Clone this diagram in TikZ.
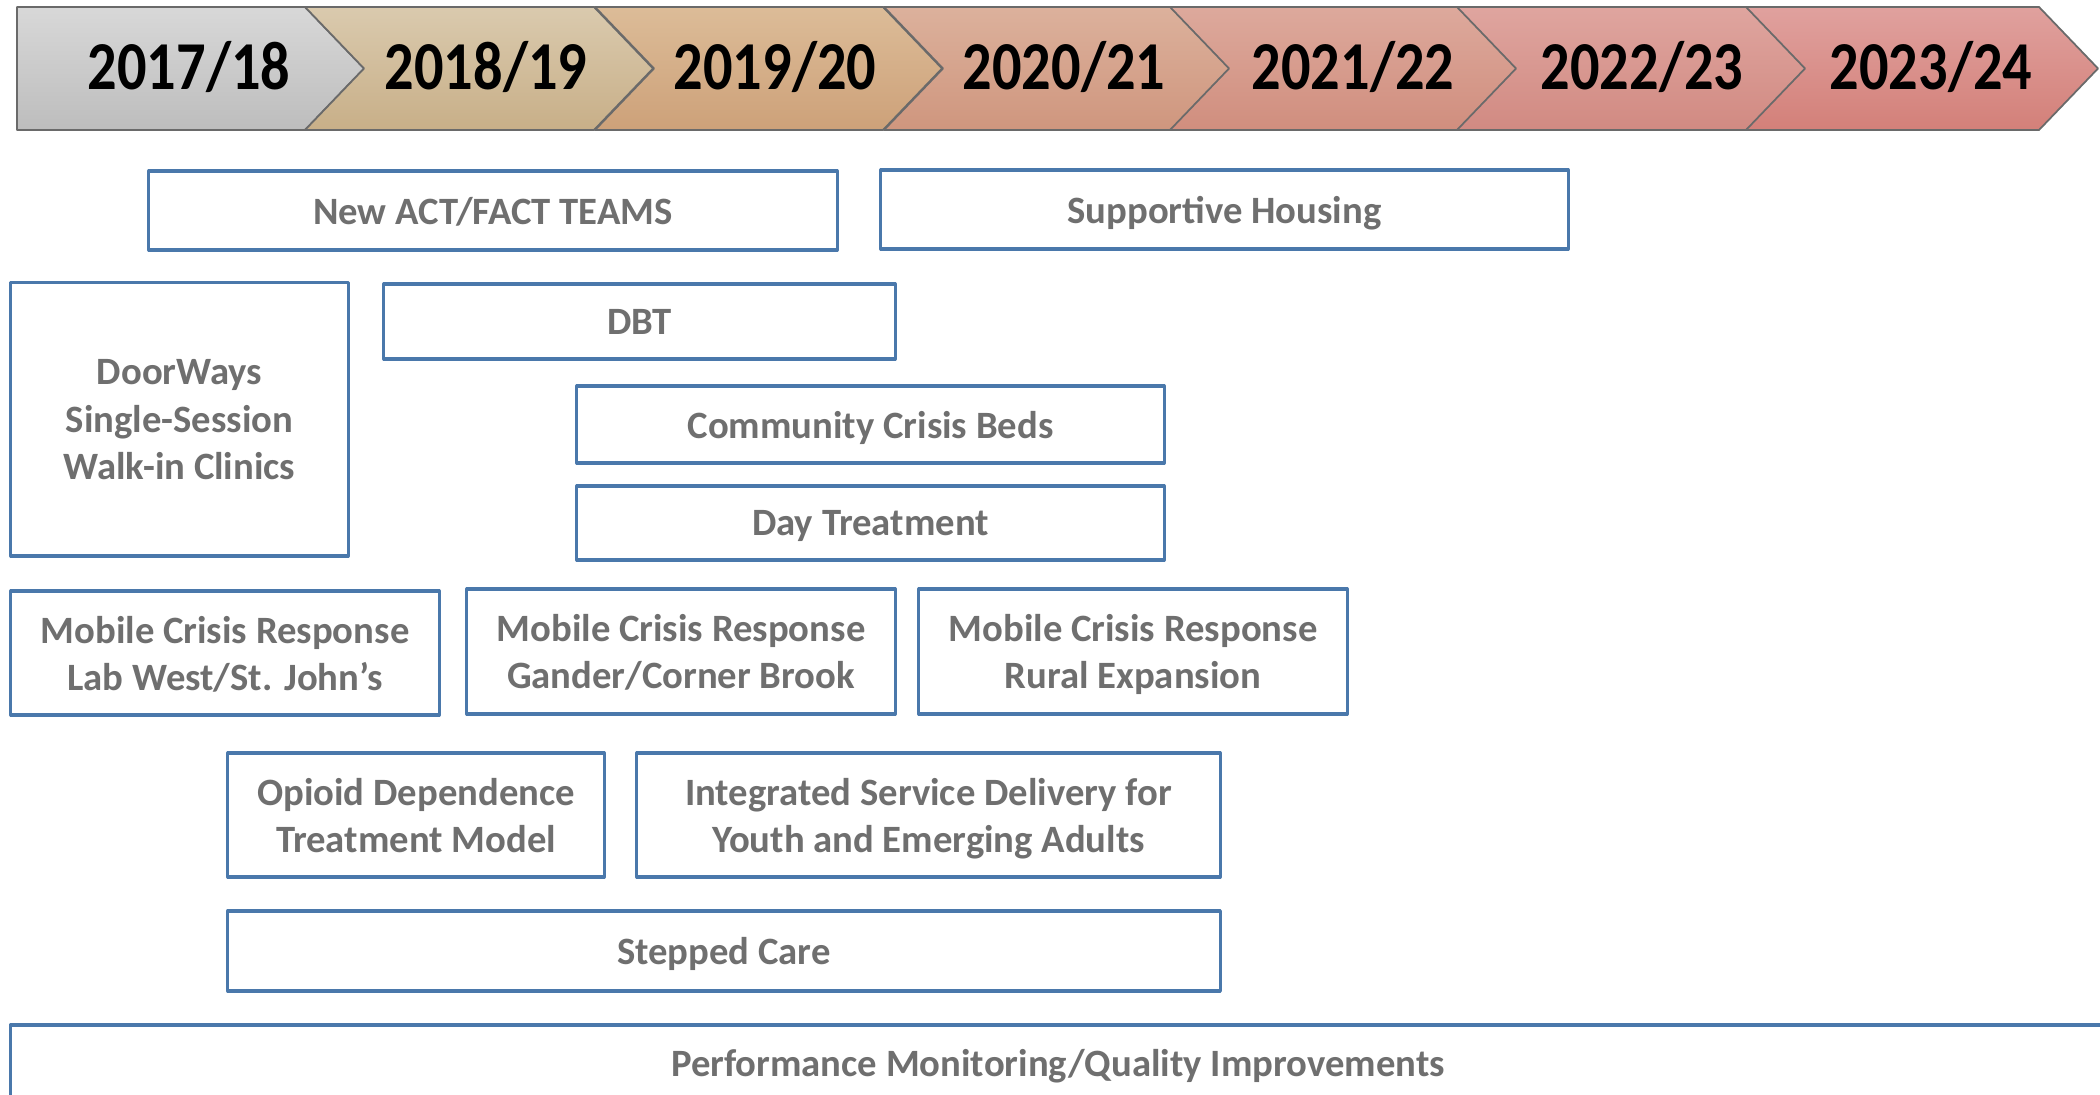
\documentclass[tikz,border=0pt]{standalone}
\usepackage{fontspec}
\setmainfont{Carlito}
\newfontfamily\yearfont[FakeStretch=0.85]{Carlito}
\usetikzlibrary{positioning}
\definecolor{boxblue}{HTML}{4A78AB}
\definecolor{boxtext}{HTML}{6F6F6F}
\definecolor{chevline}{HTML}{6A6A6A}
\definecolor{yr0t}{HTML}{D8D8D8}
\definecolor{yr0b}{HTML}{BDBDBD}
\definecolor{yr1t}{HTML}{DACAAE}
\definecolor{yr1b}{HTML}{C8AF88}
\definecolor{yr2t}{HTML}{DCBC98}
\definecolor{yr2b}{HTML}{CDA179}
\definecolor{yr3t}{HTML}{DCB19C}
\definecolor{yr3b}{HTML}{CF967E}
\definecolor{yr4t}{HTML}{DDA99C}
\definecolor{yr4b}{HTML}{D08E7E}
\definecolor{yr5t}{HTML}{DFA59F}
\definecolor{yr5b}{HTML}{D18A82}
\definecolor{yr6t}{HTML}{E0A19E}
\definecolor{yr6b}{HTML}{D38079}

\begin{document}
\begin{tikzpicture}[line cap=round,line join=round,x=0.01cm,y=-0.01cm,
    prog/.style={draw=boxblue,line width=0.9pt,fill=white,text=boxtext,text depth=0pt,
      font=\bfseries\fontsize{11}{13.4}\selectfont,align=center,inner sep=0pt},
    year/.style={font=\yearfont\bfseries\fontsize{19.5}{22}\selectfont,text=black}]
    \useasboundingbox (0,0) rectangle (2100,1095);
    \clip (0,0) rectangle (2100,1095);
    \foreach \i/\xl/\dn in {0/17/0,1/305/59,2/595/59,3/884/59,4/1170/59,5/1457/59,6/1746/59}
    {
    \pgfmathsetmacro\xt{364+289*\i}
    \pgfmathsetmacro\xc{\i==0 ? 189 : \xt-167}
    \shade[top color=yr\i t,bottom color=yr\i b,draw=chevline,line width=0.5pt]
      (\xl,7) -- (\xt-59,7) -- (\xt,68.5) -- (\xt-59,130) -- (\xl,130) -- (\xl+\dn,68.5) -- cycle;
    \node[year] (y\i) at (\xc,67) {\the\numexpr2017+\i\relax/\the\numexpr18+\i\relax};
    }
    \node[prog,minimum width=6.88cm,minimum height=0.79cm] (act) at (493,210.5) {New ACT/FACT TEAMS};
    \node[prog,minimum width=6.87cm,minimum height=0.79cm] (housing) at (1224.5,209.5) {Supportive Housing};
    \node[prog,minimum width=3.37cm,minimum height=2.73cm] (doorways) at (179.5,419.5) {DoorWays\\Single-Session\\Walk-in Clinics};
    \node[prog,minimum width=5.11cm,minimum height=0.75cm] (dbt) at (639.5,321.5) {DBT};
    \node[prog,minimum width=5.87cm,minimum height=0.77cm] (beds) at (870.5,424.5) {Community Crisis Beds};
    \node[prog,minimum width=5.87cm,minimum height=0.74cm] (daytx) at (870.5,523) {Day Treatment};
    \node[prog,minimum width=4.28cm,minimum height=1.24cm] (mcrA) at (225,653) {Mobile Crisis Response\\Lab West/St. John’s};
    \node[prog,minimum width=4.28cm,minimum height=1.25cm] (mcrB) at (681,651.5) {Mobile Crisis Response\\Gander/Corner Brook};
    \node[prog,minimum width=4.28cm,minimum height=1.25cm] (mcrC) at (1133,651.5) {Mobile Crisis Response\\Rural Expansion};
    \node[prog,minimum width=3.76cm,minimum height=1.24cm] (opioid) at (416,815) {Opioid Dependence\\Treatment Model};
    \node[prog,minimum width=5.83cm,minimum height=1.24cm] (isd) at (928.5,815) {Integrated Service Delivery for\\Youth and Emerging Adults};
    \node[prog,minimum width=9.92cm,minimum height=0.80cm] (stepped) at (724,951) {Stepped Care};
    \node[prog,minimum width=20.94cm,minimum height=0.76cm] (perf) at (1058,1063) {Performance Monitoring/Quality Improvements};
    \end{tikzpicture}
\end{document}
